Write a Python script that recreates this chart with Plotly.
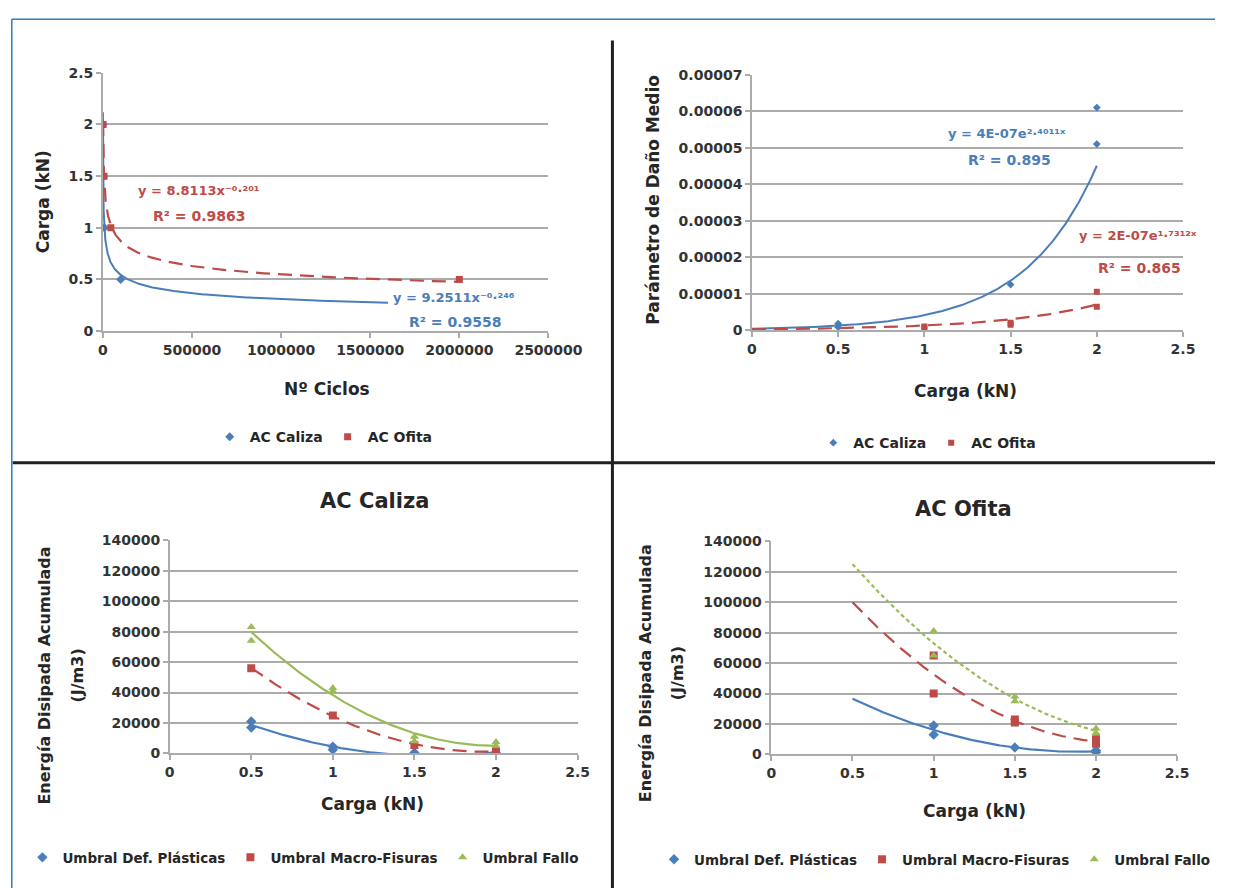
import numpy as np
import plotly.graph_objects as go

W, H = 1249, 896

# ---------------- data ----------------
# Panel 1: Carga vs Nº Ciclos
p1_caliza_ciclos = [400, 1600, 8500, 100000]
p1_caliza_carga = [2.0, 1.5, 1.0, 0.5]
p1_ofita_ciclos = [1500, 6700, 45000, 2000000]
p1_ofita_carga = [2.0, 1.5, 1.0, 0.5]
p1_caliza_fit = (9.2511, -0.246)   # y = a x^b
p1_ofita_fit = (8.8113, -0.201)
p1_caliza_fit_range = (400, 1600000)
p1_ofita_fit_range = (1500, 2000000)
p1_xticks = [0, 500000, 1000000, 1500000, 2000000, 2500000]
p1_yticks = [0, 0.5, 1, 1.5, 2, 2.5]

# Panel 2: Parámetro de Daño Medio vs Carga
p2_caliza_carga = [0.5, 0.5, 1.5, 2.0, 2.0]
p2_caliza_dano = [1.8e-6, 0.8e-6, 1.25e-5, 5.1e-5, 6.1e-5]
p2_ofita_carga = [1.0, 1.0, 1.5, 1.5, 2.0, 2.0]
p2_ofita_dano = [1.0e-6, 0.6e-6, 2.0e-6, 1.5e-6, 6.4e-6, 1.05e-5]
p2_caliza_fit = (3.7e-7, 2.4011)   # y = a e^(b x)
p2_ofita_fit = (2.2e-7, 1.7312)
p2_fit_range = (0.0, 2.0)
p2_xticks = [0, 0.5, 1, 1.5, 2, 2.5]
p2_yticks = [0, 0.00001, 0.00002, 0.00003, 0.00004, 0.00005, 0.00006, 0.00007]
p2_yticklabels = ["0", "0.00001", "0.00002", "0.00003", "0.00004", "0.00005", "0.00006", "0.00007"]

# Panel 3: AC Caliza energía
p3_plast_x = [0.5, 0.5, 1.0, 1.0, 1.5, 2.0]
p3_plast_y = [21000, 17000, 4500, 2500, 500, 300]
p3_macro_x = [0.5, 1.0, 1.5, 2.0]
p3_macro_y = [56000, 25000, 5500, 1500]
p3_fallo_x = [0.5, 0.5, 1.0, 1.0, 1.5, 1.5, 2.0, 2.0]
p3_fallo_y = [83000, 74000, 43000, 41000, 11000, 8000, 7500, 5000]

# Panel 4: AC Ofita energía
p4_plast_x = [1.0, 1.0, 1.5, 2.0, 2.0]
p4_plast_y = [19000, 13000, 4500, 2500, 1500]
p4_macro_x = [1.0, 1.0, 1.5, 1.5, 2.0, 2.0]
p4_macro_y = [40000, 65000, 23000, 21000, 10000, 7000]
p4_fallo_x = [1.0, 1.0, 1.5, 1.5, 2.0, 2.0]
p4_fallo_y = [81000, 65000, 38000, 35000, 17000, 14000]
energy_fit_range = (0.5, 2.0)
energy_xticks = [0, 0.5, 1, 1.5, 2, 2.5]
energy_yticks = [0, 20000, 40000, 60000, 80000, 100000, 120000, 140000]

# ---------------- style ----------------
BLUE = "#4A7EBB"
RED = "#BE4B48"
GREEN = "#9BBB59"
GRID = "#ABABAB"
TICKC = "#333333"
FONT = "DejaVu Sans"

def px(x):
    return x / W

def py(y):
    return 1 - y / H

fig = go.Figure()

def axis_common(**kw):
    d = dict(showgrid=False, zeroline=False, showline=True, linecolor=GRID, linewidth=1.5,
             ticks="outside", ticklen=5, tickwidth=1.5, tickcolor=GRID,
             tickfont=dict(family=FONT, size=14, color=TICKC, weight="bold"),
             fixedrange=True)
    d.update(kw)
    return d

# ---- Panel 1 ----
a, b = p1_caliza_fit
xs = np.geomspace(*p1_caliza_fit_range, 400)
fig.add_trace(go.Scatter(x=xs, y=a * xs ** b, mode="lines", line=dict(color=BLUE, width=2),
                         showlegend=False, xaxis="x", yaxis="y", hoverinfo="skip"))
a, b = p1_ofita_fit
xs = np.geomspace(*p1_ofita_fit_range, 400)
fig.add_trace(go.Scatter(x=xs, y=a * xs ** b, mode="lines",
                         line=dict(color=RED, width=2.2, dash="14px,8px"),
                         showlegend=False, xaxis="x", yaxis="y", hoverinfo="skip"))
fig.add_trace(go.Scatter(x=p1_caliza_ciclos, y=p1_caliza_carga, mode="markers", name="AC Caliza",
                         marker=dict(symbol="diamond", size=7, color=BLUE),
                         xaxis="x", yaxis="y", legend="legend"))
fig.add_trace(go.Scatter(x=p1_ofita_ciclos, y=p1_ofita_carga, mode="markers", name="AC Ofita",
                         marker=dict(symbol="square", size=7, color=RED),
                         xaxis="x", yaxis="y", legend="legend"))

# ---- Panel 2 ----
xs = np.linspace(*p2_fit_range, 300)
a, b = p2_caliza_fit
fig.add_trace(go.Scatter(x=xs, y=a * np.exp(b * xs), mode="lines", line=dict(color=BLUE, width=2),
                         showlegend=False, xaxis="x2", yaxis="y2", hoverinfo="skip"))
a, b = p2_ofita_fit
fig.add_trace(go.Scatter(x=xs, y=a * np.exp(b * xs), mode="lines",
                         line=dict(color=RED, width=2.2, dash="14px,8px"),
                         showlegend=False, xaxis="x2", yaxis="y2", hoverinfo="skip"))
fig.add_trace(go.Scatter(x=p2_caliza_carga, y=p2_caliza_dano, mode="markers", name="AC Caliza",
                         marker=dict(symbol="diamond", size=6, color=BLUE),
                         xaxis="x2", yaxis="y2", legend="legend2"))
fig.add_trace(go.Scatter(x=p2_ofita_carga, y=p2_ofita_dano, mode="markers", name="AC Ofita",
                         marker=dict(symbol="square", size=6, color=RED),
                         xaxis="x2", yaxis="y2", legend="legend2"))

# ---- Panels 3 and 4 (quadratic trend lines) ----
def energy_panel(xa, ya, leg, series):
    xs = np.linspace(*energy_fit_range, 200)
    for name, xv, yv, color, symbol, dash in series:
        coef = np.polyfit(xv, yv, 2)
        fig.add_trace(go.Scatter(x=xs, y=np.polyval(coef, xs), mode="lines",
                                 line=dict(color=color, width=2.2, dash=dash),
                                 showlegend=False, xaxis=xa, yaxis=ya, hoverinfo="skip"))
    for name, xv, yv, color, symbol, dash in series:
        fig.add_trace(go.Scatter(x=xv, y=yv, mode="markers", name=name,
                                 marker=dict(symbol=symbol, size=8, color=color),
                                 xaxis=xa, yaxis=ya, legend=leg))

energy_panel("x3", "y3", "legend3", [
    ("Umbral Def. Plásticas", p3_plast_x, p3_plast_y, BLUE, "diamond", "solid"),
    ("Umbral Macro-Fisuras", p3_macro_x, p3_macro_y, RED, "square", "14px,8px"),
    ("Umbral Fallo", p3_fallo_x, p3_fallo_y, GREEN, "triangle-up", "solid"),
])
energy_panel("x4", "y4", "legend4", [
    ("Umbral Def. Plásticas", p4_plast_x, p4_plast_y, BLUE, "diamond", "solid"),
    ("Umbral Macro-Fisuras", p4_macro_x, p4_macro_y, RED, "square", "14px,8px"),
    ("Umbral Fallo", p4_fallo_x, p4_fallo_y, GREEN, "triangle-up", "4px,3px"),
])

grid_y = dict(showgrid=True, gridcolor=GRID, gridwidth=1.8)

layout = dict(
    width=W, height=H, margin=dict(l=0, r=0, t=0, b=0),
    paper_bgcolor="white", plot_bgcolor="white",
    font=dict(family=FONT, color="#262626"),
    xaxis=axis_common(domain=[px(101), px(561)], range=[0, 2500000], tickvals=p1_xticks,
                      ticktext=[str(v) for v in p1_xticks], anchor="y"),
    yaxis=axis_common(domain=[py(329), py(66)], range=[0, 2.5], tickvals=p1_yticks,
                      ticktext=[str(v) for v in p1_yticks], anchor="x", **grid_y),
    xaxis2=axis_common(domain=[px(771), px(1216)], range=[0, 2.5], tickvals=p2_xticks,
                       ticktext=[str(v) for v in p2_xticks], anchor="y2"),
    yaxis2=axis_common(domain=[py(328), py(68)], range=[0, 7e-5], tickvals=p2_yticks,
                       ticktext=p2_yticklabels, anchor="x2", **grid_y),
    xaxis3=axis_common(domain=[px(170), px(591)], range=[0, 2.5], tickvals=energy_xticks,
                       ticktext=[str(v) for v in energy_xticks], anchor="y3"),
    yaxis3=axis_common(domain=[py(759), py(542)], range=[0, 140000], tickvals=energy_yticks,
                       ticktext=[str(v) for v in energy_yticks], anchor="x3", **grid_y),
    xaxis4=axis_common(domain=[px(791), px(1210)], range=[0, 2.5], tickvals=energy_xticks,
                       ticktext=[str(v) for v in energy_xticks], anchor="y4"),
    yaxis4=axis_common(domain=[py(760), py(543)], range=[0, 140000], tickvals=energy_yticks,
                       ticktext=[str(v) for v in energy_yticks], anchor="x4", **grid_y),
)

def legend_at(xc, yc, size):
    return dict(orientation="h", x=px(xc), y=py(yc), xanchor="center", yanchor="middle",
                font=dict(family=FONT, size=size, color="#262626", weight="bold"),
                bgcolor="rgba(0,0,0,0)", itemwidth=30, tracegroupgap=0)

layout["legend"] = legend_at(329, 437, 14)
layout["legend2"] = legend_at(952, 443, 14)
layout["legend3"] = legend_at(308, 865, 13.5)
layout["legend4"] = legend_at(960, 867, 13.5)

ann = []
def text(x, y, t, size=17, color="#262626", angle=0):
    ann.append(dict(x=px(x), y=py(y), xref="paper", yref="paper", text=t, showarrow=False,
                    textangle=angle, xanchor="center", yanchor="middle",
                    font=dict(family=FONT, size=size, color=color, weight="bold")))

# axis titles
text(40, 197, "Carga (kN)", angle=-90)
text(332, 388, "Nº Ciclos")
text(668, 195, "Parámetro de Daño Medio", angle=-90)
text(991, 390, "Carga (kN)")
text(41, 680, "Energía Disipada Acumulada", size=16, angle=-90)
text(75, 680, "(J/m3)", size=16, angle=-90)
text(379, 810, "Carga (kN)")
text(662, 677, "Energía Disipada Acumulada", size=16, angle=-90)
text(695, 677, "(J/m3)", size=16, angle=-90)
text(1001, 818, "Carga (kN)")
# chart titles
text(381, 502, "AC Caliza", size=21)
text(989, 510, "AC Ofita", size=21)
# trend equations (superscripts as Unicode characters)
text(200, 186, "y = 8.8113x⁻⁰·²⁰¹", size=13, color=RED)
text(200, 212, "R² = 0.9863", size=14, color=RED)
text(463, 295, "y = 9.2511x⁻⁰·²⁴⁶", size=13, color=BLUE)
text(465, 320, "R² = 0.9558", size=14, color=BLUE)
text(1034, 128, "y = 4E-07e²·⁴⁰¹¹ˣ", size=13, color=BLUE)
text(1037, 155, "R² = 0.895", size=14, color=BLUE)
text(1170, 232, "y = 2E-07e¹·⁷³¹²ˣ", size=13, color=RED)
text(1171, 265, "R² = 0.865", size=14, color=RED)
layout["annotations"] = ann

# frame lines
layout["shapes"] = [
    dict(type="line", xref="paper", yref="paper", x0=px(7), x1=1, y0=py(11.5), y1=py(11.5),
         line=dict(color="#2E7CB8", width=1.5)),
    dict(type="line", xref="paper", yref="paper", x0=px(7), x1=px(7), y0=py(11.5), y1=0,
         line=dict(color="#2E7CB8", width=1.5)),
    dict(type="line", xref="paper", yref="paper", x0=px(627), x1=px(627), y0=py(33), y1=0,
         line=dict(color="#202020", width=3)),
    dict(type="line", xref="paper", yref="paper", x0=px(8), x1=1, y0=py(463), y1=py(463),
         line=dict(color="#202020", width=3)),
]

fig.update_layout(**layout)
fig.write_html("out.html", config={"displayModeBar": False},
               post_script="document.body.style.margin='0';document.body.style.overflow='hidden';")
